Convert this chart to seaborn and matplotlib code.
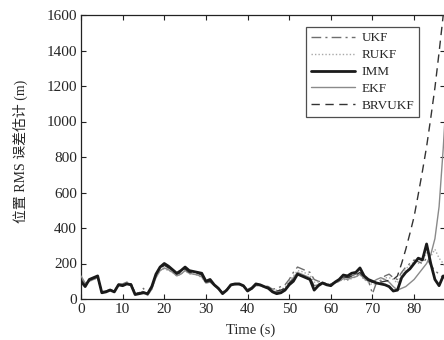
import matplotlib
matplotlib.use("Agg")
import matplotlib.pyplot as plt
import seaborn as sns
import numpy as np

# ─── Data ─────────────────────────────────────────────────────────────────────

TIME = list(range(0, 89))

IMM = [100, 70, 110, 120, 130, 35, 40, 50, 40, 80,
       75, 85, 80, 25, 30, 35, 30, 70, 140, 180,
       200, 185, 165, 145, 160, 180, 160, 155, 150, 145,
       100, 110, 80, 60, 30, 50, 80, 85, 85, 75,
       45, 60, 85, 80, 70, 60, 40, 30, 35, 50,
       80, 100, 140, 130, 120, 110, 50, 75, 90, 80,
       75, 95, 110, 135, 130, 145, 150, 175, 130, 110,
       100, 90, 85, 80, 70, 45, 50, 120, 150, 170,
       200, 230, 220, 310, 200, 110, 75, 130, 120]

EKF = [130, 90, 100, 110, 120, 40, 45, 50, 45, 75,
       80, 90, 85, 30, 30, 40, 20, 55, 120, 160,
       175, 165, 150, 130, 140, 160, 145, 140, 135, 125,
       90, 95, 75, 55, 35, 50, 75, 80, 80, 70,
       50, 55, 75, 75, 65, 60, 45, 40, 40, 55,
       90, 120, 150, 140, 130, 120, 75, 80, 95, 85,
       80, 90, 100, 115, 110, 120, 125, 140, 115, 100,
       95, 110, 120, 110, 95, 70, 50, 60, 70, 90,
       110, 140, 170, 200, 250, 340, 520, 850, 1250]

UKF = [120, 80, 105, 115, 125, 40, 45, 55, 45, 85,
       85, 95, 90, 30, 35, 60, 25, 60, 130, 170,
       190, 175, 160, 140, 150, 170, 150, 150, 145, 135,
       95, 105, 80, 60, 35, 55, 80, 85, 85, 75,
       55, 65, 85, 80, 75, 70, 55, 60, 70, 80,
       110, 150, 180, 170, 160, 150, 110, 100, 95, 85,
       85, 95, 105, 120, 115, 130, 140, 150, 120, 105,
       30, 95, 105, 130, 140, 120, 110, 150, 180, 200,
       220, 210, 200, 230, 190, 160, 140, 120, 110]

RUKF = [110, 80, 100, 110, 115, 45, 45, 50, 45, 80,
        80, 85, 85, 35, 35, 45, 25, 55, 125, 160,
        170, 160, 150, 130, 140, 160, 140, 140, 135, 120,
        90, 100, 75, 55, 40, 55, 75, 80, 80, 70,
        50, 60, 80, 75, 70, 65, 50, 50, 55, 65,
        100, 130, 160, 155, 145, 135, 95, 95, 90, 85,
        80, 90, 100, 110, 105, 115, 125, 135, 110, 95,
        80, 90, 100, 120, 120, 110, 90, 140, 170, 190,
        210, 200, 220, 260, 240, 280, 230, 200, 160]

BRVUKF = [100, 75, 105, 115, 125, 40, 45, 50, 45, 80,
          80, 90, 85, 30, 35, 40, 30, 65, 135, 175,
          190, 175, 160, 140, 150, 170, 150, 150, 145, 135,
          95, 100, 80, 60, 35, 55, 80, 85, 85, 75,
          50, 60, 80, 80, 70, 65, 50, 45, 50, 60,
          90, 110, 140, 130, 125, 115, 70, 85, 90, 85,
          80, 95, 110, 125, 120, 130, 135, 150, 120, 105,
          95, 95, 95, 100, 105, 110, 130, 200, 280, 370,
          464, 590, 720, 858, 1020, 1190, 1390, 1600, 1800]

X_TICKS = [0, 10, 20, 30, 40, 50, 60, 70, 80]
Y_TICKS = [0, 200, 400, 600, 800, 1000, 1200, 1400, 1600]

# ─── Style ────────────────────────────────────────────────────────────────────

sns.set_style("ticks")
plt.rcParams["font.family"] = ["Liberation Serif", "Noto Sans CJK SC"]
plt.rcParams["axes.linewidth"] = 0.9

fig = plt.figure(figsize=(4.44, 3.40), dpi=100)
ax = fig.add_axes([81 / 444, 41 / 340, 363.5 / 444, 284 / 340])

styles = [
    ("UKF",    UKF,    "#6e6e6e", 1.0, (0, (7, 3, 1.5, 3)), 2),
    ("RUKF",   RUKF,   "#a8a8a8", 1.0, (0, (1, 1.5)),       2),
    ("IMM",    IMM,    "#1a1a1a", 2.0, "-",                 4),
    ("EKF",    EKF,    "#8a8a8a", 1.0, "-",                 3),
    ("BRVUKF", BRVUKF, "#333333", 1.0, (0, (6, 4)),         3),
]
for name, vals, color, lw, ls, z in styles:
    sns.lineplot(x=TIME, y=vals, ax=ax, color=color, linewidth=lw,
                 linestyle=ls, label=name, zorder=z)

ax.set_xlim(0, 87.3)
ax.set_ylim(0, 1600)
ax.set_xticks(X_TICKS)
ax.set_yticks(Y_TICKS)
ax.tick_params(direction="in", top=True, right=True, length=3.5,
               labelsize=11, pad=3, color="#222222")
for sp in ax.spines.values():
    sp.set_color("#222222")

ax.set_xlabel("Time (s)", fontsize=10.5)
ax.xaxis.set_label_coords((250 - 81) / 363, -0.085)
ax.set_ylabel("位置 RMS 误差估计 (m)", fontsize=10)
ax.yaxis.set_label_coords(-0.145, 0.52)

leg = ax.legend(loc="upper right", bbox_to_anchor=(0.931, 0.958),
                fontsize=9.5, handlelength=3.3, labelspacing=0.35,
                frameon=True, fancybox=False, borderpad=0.4,
                handletextpad=0.5, borderaxespad=0)
leg.get_frame().set_edgecolor("#222222")
leg.get_frame().set_linewidth(0.9)

fig.savefig("out.png", dpi=100)
plt.close(fig)
